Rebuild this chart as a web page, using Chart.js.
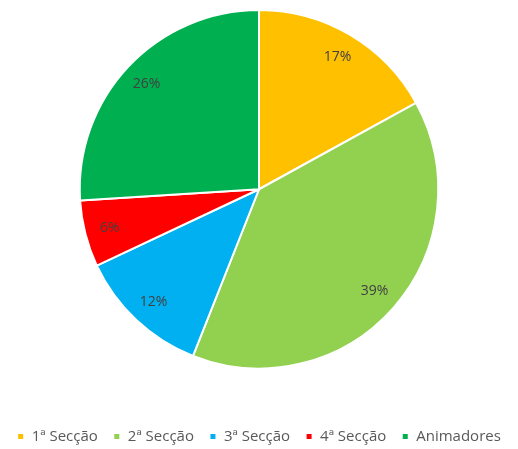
<!DOCTYPE html>
<html>
<head>
<meta charset="utf-8">
<script src="https://cdn.jsdelivr.net/npm/chart.js@4/dist/chart.umd.min.js"></script>
<style>
  html, body { margin: 0; padding: 0; background: #fff; }
  #wrap { width: 518px; height: 449px; }
</style>
</head>
<body>
<div id="wrap"><canvas id="myChart"></canvas></div>
<script>
// data
var categories = ["1ª Secção", "2ª Secção", "3ª Secção", "4ª Secção", "Animadores"];
var percents = [17, 39, 12, 6, 26];
var sliceColors = ["#FFC000", "#92D050", "#00B0F0", "#FF0000", "#00B050"];

// percentage text inside each slice
var sliceLabels = {
  id: 'sliceLabels',
  afterDatasetsDraw: function(chart) {
    var ctx = chart.ctx;
    var meta = chart.getDatasetMeta(0);
    ctx.save();
    ctx.font = '14px "Open Sans", sans-serif';
    ctx.fillStyle = '#404040';
    ctx.textAlign = 'center';
    ctx.textBaseline = 'middle';
    meta.data.forEach(function(arc, i) {
      var mid = (arc.startAngle + arc.endAngle) / 2;
      var r = arc.outerRadius * 0.86;
      ctx.fillText(percents[i] + '%', arc.x + Math.cos(mid) * r, arc.y + Math.sin(mid) * r);
    });
    ctx.restore();
  }
};

var ctx = document.getElementById("myChart");
var myPie = new Chart(ctx, {
  type: 'pie',
  data: {
    labels: categories,
    datasets: [{
      data: percents,
      backgroundColor: sliceColors,
      borderColor: '#ffffff',
      borderWidth: 2
    }]
  },
  options: {
    responsive: true,
    maintainAspectRatio: false,
    animation: false,
    layout: { padding: { top: 9, bottom: -5 } },
    plugins: {
      tooltip: { enabled: false },
      legend: {
        position: 'bottom',
        // empty title only used to push the legend row down
        title: {
          display: true,
          text: ' ',
          font: { size: 10, lineHeight: 1 },
          padding: { top: 0, bottom: 34 }
        },
        labels: {
          boxWidth: 7,
          boxHeight: 7,
          padding: 15.5,
          color: '#595959',
          font: { family: '"Open Sans", sans-serif', size: 15 }
        }
      }
    }
  },
  plugins: [sliceLabels]
});
</script>
</body>
</html>
